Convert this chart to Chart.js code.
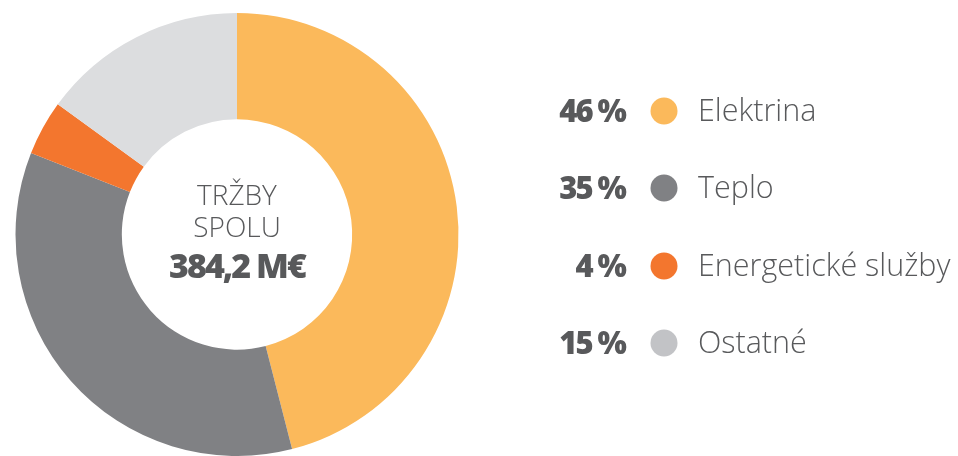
<!DOCTYPE html>
<html><head><meta charset="utf-8">
<script src="https://cdn.jsdelivr.net/npm/chart.js@4"></script>
<style>html,body{margin:0;padding:0;background:#fff;}#wrap{width:958px;height:456px;position:relative;}</style>
</head><body><div id="wrap"><canvas id="c" width="958" height="456"></canvas></div>
<script>
const categories = ["Elektrina", "Teplo", "Energetické služby", "Ostatné"];
const values = [46, 35, 4, 15];
const percentLabels = ["46 %", "35 %", "4 %", "15 %"];
const colors = ["#fbb95b", "#808184", "#f3762e", "#dcdddf"];
const legendDotColors = ["#fbb95b", "#808184", "#f3762e", "#c2c3c6"];
const centerLines = ["TRŽBY", "SPOLU"];
const centerTotal = "384,2 M€";

const textColor = "#58595b";

const overlay = {
  id: "overlay",
  afterDraw(chart) {
    const ctx = chart.ctx;
    const meta = chart.getDatasetMeta(0);
    const arc = meta.data[0];
    const cx = arc.x, cy = arc.y;
    ctx.save();
    ctx.fillStyle = textColor;
    ctx.textAlign = "center";
    ctx.textBaseline = "alphabetic";
    ctx.font = "300 28px 'Open Sans'";
    ctx.fillText(centerLines[0], cx, 205);
    ctx.fillText(centerLines[1], cx, 237);
    ctx.font = "800 34px 'Open Sans'";
    ctx.letterSpacing = "-2px";
    ctx.fillText(centerTotal, cx, 278);
    // legend
    const rowY = [111, 188, 266, 343];
    categories.forEach((cat, i) => {
      const y = rowY[i];
      ctx.textAlign = "right";
      ctx.textBaseline = "middle";
      ctx.font = "800 31px 'Open Sans'";
      ctx.letterSpacing = "-2px";
      ctx.fillStyle = textColor;
      ctx.fillText(percentLabels[i], 625, y + 2);
      ctx.beginPath();
      ctx.arc(664, y, 13.5, 0, Math.PI * 2);
      ctx.fillStyle = legendDotColors[i];
      ctx.fill();
      ctx.textAlign = "left";
      ctx.letterSpacing = "0px";
      ctx.font = "300 30.5px 'Open Sans'";
      ctx.fillStyle = textColor;
      ctx.fillText(cat, 698, y + 1);
    });
    ctx.restore();
  }
};

new Chart(document.getElementById("c"), {
  type: "doughnut",
  data: {
    labels: categories,
    datasets: [{
      data: values,
      backgroundColor: colors,
      borderWidth: 0,
      hoverOffset: 0
    }]
  },
  options: {
    responsive: false,
    animation: false,
    cutout: "52%",
    layout: { padding: { left: 15, right: 499, top: 13, bottom: 0 } },
    plugins: { legend: { display: false }, tooltip: { enabled: false } }
  },
  plugins: [overlay]
});
</script></body></html>
